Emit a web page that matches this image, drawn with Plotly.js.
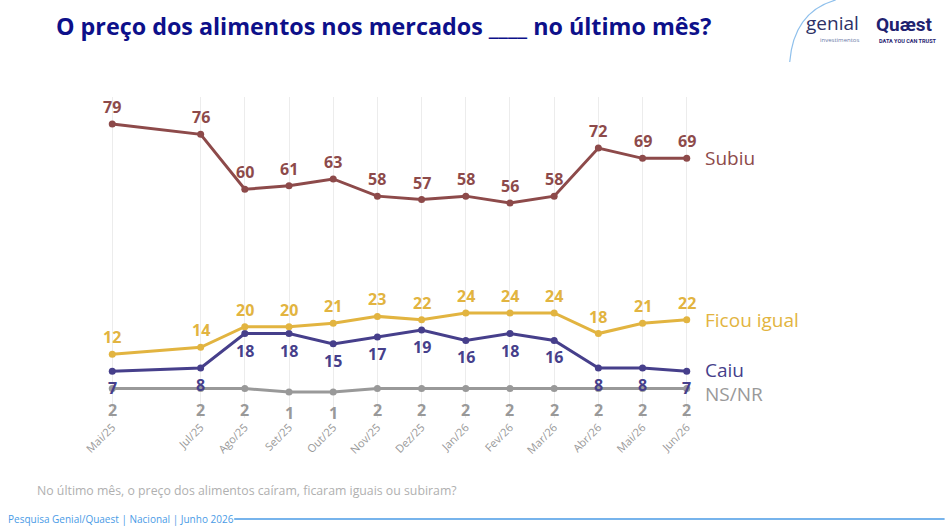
<!DOCTYPE html>
<html>
<head>
<meta charset="utf-8">
<script src="https://cdn.plot.ly/plotly-3.0.1.min.js"></script>
<style>html,body{margin:0;padding:0;background:#fff;}#chart{width:945px;height:532px;}</style>
</head>
<body>
<div id="chart"></div>
<script>
// month index (Jun/25 absent in the survey series)
const monthIdx = [0, 2, 3, 4, 5, 6, 7, 8, 9, 10, 11, 12, 13];
const monthLabels = ["Mai/25","Jul/25","Ago/25","Set/25","Out/25","Nov/25","Dez/25","Jan/26","Fev/26","Mar/26","Abr/26","Mai/26","Jun/26"];
const subiu = [79, 76, 60, 61, 63, 58, 57, 58, 56, 58, 72, 69, 69];
const ficou = [12, 14, 20, 20, 21, 23, 22, 24, 24, 24, 18, 21, 22];
const caiu  = [7, 8, 18, 18, 15, 17, 19, 16, 18, 16, 8, 8, 7];
const nsnr  = [2, 2, 2, 1, 1, 2, 2, 2, 2, 2, 2, 2, 2];
const seriesNames = ["Subiu", "Ficou igual", "Caiu", "NS/NR"];

const C = {subiu: "#8d4a4a", ficou: "#e2b440", caiu: "#463f8b", ns: "#999999"};

function mk(y, name, color) {
  return {
    x: monthIdx, y: y, name: name, type: "scatter", mode: "lines+markers",
    line: {color: color, width: 3}, marker: {color: color, size: 7},
    cliponaxis: false, hoverinfo: "skip"
  };
}

const data = [
  mk(nsnr, seriesNames[3], C.ns),
  mk(caiu, seriesNames[2], C.caiu),
  mk(ficou, seriesNames[1], C.ficou),
  mk(subiu, seriesNames[0], C.subiu)
];

const L = 98.7, W = 601.5, T = 97, H = 321;
const px = (v) => (v - L) / W;
const py = (v) => (T + H - v) / H;

// value labels (drawn in the order: NS/NR, Caiu, Ficou, Subiu)
const labelFont = (c) => ({family: "Open Sans, sans-serif", size: 16, color: c, weight: 700});
function valueLabels(y, color, shift) {
  return y.map((v, i) => ({x: monthIdx[i], y: v, text: String(v), showarrow: false, borderpad: 0,
    xanchor: "center", yanchor: "middle", yshift: shift, font: labelFont(color)}));
}

const last = monthIdx[monthIdx.length - 1];
const sideFont = (c) => ({family: "Open Sans, sans-serif", size: 19, color: c});
const annotations = [].concat(
  valueLabels(nsnr, C.ns, -21),
  valueLabels(caiu, C.caiu, -17),
  valueLabels(ficou, C.ficou, 17),
  valueLabels(subiu, C.subiu, 17),
  [
  {x: last, y: subiu[12], text: seriesNames[0], xanchor: "left", xshift: 16, showarrow: false, font: sideFont(C.subiu)},
  {x: last, y: ficou[12], text: seriesNames[1], xanchor: "left", xshift: 16, showarrow: false, font: sideFont(C.ficou)},
  {x: last, y: caiu[12], text: seriesNames[2], xanchor: "left", xshift: 16, yshift: 1, showarrow: false, font: sideFont(C.caiu)},
  {x: last, y: nsnr[12], text: seriesNames[3], xanchor: "left", xshift: 16, yshift: -5, showarrow: false, font: sideFont(C.ns)},
  {xref: "paper", yref: "paper", x: px(35), y: py(490), xanchor: "left", yanchor: "middle", showarrow: false,
   text: "No último mês, o preço dos alimentos caíram, ficaram iguais ou subiram?",
   font: {family: "Open Sans, sans-serif", size: 12.3, color: "#b0b0b0"}},
  {xref: "paper", yref: "paper", x: px(6), y: py(519), xanchor: "left", yanchor: "middle", showarrow: false,
   text: "Pesquisa Genial/Quaest | Nacional | Junho 2026",
   font: {family: "Open Sans, sans-serif", size: 10, color: "#4a9be6"}},
  {xref: "paper", yref: "paper", x: px(804), y: py(23), xanchor: "left", yanchor: "middle", showarrow: false,
   text: "genial", font: {family: "Open Sans, sans-serif", size: 19, color: "#2d3166"}},
  {xref: "paper", yref: "paper", x: px(818), y: py(40), xanchor: "left", yanchor: "middle", showarrow: false,
   text: "investimentos", font: {family: "Open Sans, sans-serif", size: 6, color: "#6b7aa8"}},
  {xref: "paper", yref: "paper", x: px(874), y: py(24), xanchor: "left", yanchor: "middle", showarrow: false,
   text: "<b>Quæst</b>", font: {family: "Roboto, sans-serif", size: 19, color: "#1f2270"}},
  {xref: "paper", yref: "paper", x: px(877), y: py(41), xanchor: "left", yanchor: "middle", showarrow: false,
   text: "<b>DATA YOU CAN TRUST</b>", font: {family: "Roboto, sans-serif", size: 5.5, color: "#1f2270"}}
  ]
);

const shapes = [
  {type: "line", xref: "paper", yref: "paper", x0: px(234), x1: px(945), y0: py(519), y1: py(519),
   line: {color: "#4a9be6", width: 1.5}},
  {type: "path", xref: "paper", yref: "paper",
   path: `M ${px(790)},${py(62)} Q ${px(794)},${py(12)} ${px(836)},${py(0)}`,
   line: {color: "#8fc0ec", width: 1.2}}
];

const layout = {
  width: 945, height: 532,
  margin: {l: L, r: 945 - L - W, t: T, b: 532 - T - H},
  paper_bgcolor: "#ffffff", plot_bgcolor: "#ffffff",
  showlegend: false,
  title: {text: "<b>O preço dos alimentos nos mercados ____ no último mês?</b>",
          xref: "container", yref: "container", x: 56 / 945, xanchor: "left", y: 1 - 27 / 532, yanchor: "middle",
          font: {family: "Open Sans, sans-serif", size: 23.3, color: "#0d108a"}},
  xaxis: {range: [-0.3, 13.3], tickvals: monthIdx, ticktext: monthLabels, tickangle: -45,
          showgrid: true, gridcolor: "#ececec", gridwidth: 1, zeroline: false, showline: false,
          ticks: "", tickfont: {family: "Open Sans, sans-serif", size: 11, color: "#999999"}, fixedrange: true},
  yaxis: {range: [-6.58, 86.86], visible: false, showgrid: false, zeroline: false, fixedrange: true},
  annotations: annotations, shapes: shapes
};

Plotly.newPlot("chart", data, layout, {displayModeBar: false, staticPlot: true});
</script>
</body>
</html>
